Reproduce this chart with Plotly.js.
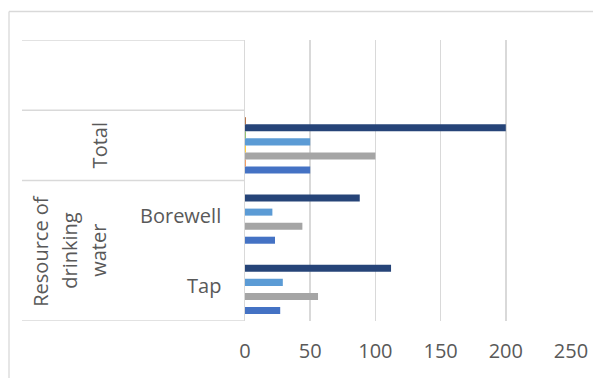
<!DOCTYPE html>
<html><head><meta charset="utf-8">
<script src="https://cdn.plot.ly/plotly-3.0.1.min.js"></script>
<style>html,body{margin:0;padding:0;background:#fff;}#chart{width:593px;height:378px;}</style>
</head><body><div id="chart"></div>
<script>
// ---- data ----
const categories = ["Tap", "Borewell", "Total"];
const groupLabelLines = ["Resource of", "drinking", "water"]; // outer level for Tap + Borewell
const series1 = [27, 23, 50];      // blue
const series2 = [null, null, 0];   // orange (zero)
const series3 = [56, 44, 100];     // gray
const series4 = [null, null, 0];   // yellow (zero)
const series5 = [29, 21, 50];      // light blue
const series6 = [null, null, 0];   // green (zero)
const series7 = [112, 88, 200];    // navy
const series8 = [null, null, 0];   // dark orange (zero)
const xTicks = [0, 50, 100, 150, 200, 250];

// ---- styling ----
const colors = ["#4472C4", "#ED7D31", "#A5A5A5", "#FFC000", "#5B9BD5", "#70AD47", "#264478", "#9E480E"];
const allSeries = [series1, series2, series3, series4, series5, series6, series7, series8];
const W = 593, H = 378, L = 245, R = 22, T = 40, B = 57;
const pw = W - L - R, ph = H - T - B;
const xp = px => (px - L) / pw;
const yp = py => (H - B - py) / ph;
const font = "'Open Sans', sans-serif";
const txt = "#595959";
const line = "#D9D9D9";

const traces = allSeries.map((s, i) => ({
  type: "bar", orientation: "h", y: categories, x: s,
  name: "Series " + (i + 1),
  marker: {color: colors[i], line: {color: colors[i], width: s.some(v => v === 0) ? 1 : 0}},
  hoverinfo: "skip"
}));

const nCat = categories.length + 1; // extra empty band at top
const shapes = [];
// table horizontal lines at band boundaries (top, top of Total, between Total and group, bottom)
[nCat - 0.5, categories.length - 0.5, categories.length - 1.5, -0.5].forEach(v => {
  shapes.push({type: "line", xref: "paper", yref: "y", x0: xp(22), x1: 0, y0: v, y1: v,
    line: {color: line, width: 1.5}});
});
// chart area border (top and left)
shapes.push({type: "line", xref: "paper", yref: "paper", x0: xp(9), x1: xp(600), y0: yp(11.5), y1: yp(11.5), line: {color: line, width: 1.3}});
shapes.push({type: "line", xref: "paper", yref: "paper", x0: xp(9), x1: xp(9), y0: yp(11.5), y1: yp(390), line: {color: line, width: 1.3}});

const annotations = [];
annotations.push({xref: "paper", yref: "y", x: xp(99), y: categories[2], text: categories[2], textangle: -90,
  showarrow: false, xanchor: "center", yanchor: "middle", font: {family: font, size: 20, color: txt}});
[0, 1].forEach(i => annotations.push({xref: "paper", yref: "y", x: xp(223), y: categories[i], text: categories[i],
  showarrow: false, xanchor: "right", yanchor: "middle", font: {family: font, size: 20, color: txt}}));
const lineX = [41, 70, 99];
groupLabelLines.forEach((t, i) => annotations.push({xref: "paper", yref: "y", x: xp(lineX[i]), y: 0.5, text: t,
  textangle: -90, showarrow: false, xanchor: "center", yanchor: "middle", font: {family: font, size: 20, color: txt}}));

const layout = {
  width: W, height: H, margin: {l: L, r: R, t: T, b: B, pad: 0},
  paper_bgcolor: "#fff", plot_bgcolor: "#fff", showlegend: false,
  barmode: "group", bargap: 0.2, bargroupgap: 0,
  xaxis: {range: [0, 250], tickvals: xTicks, ticktext: xTicks.map(String), showgrid: true, gridcolor: line, gridwidth: 1.5,
    zeroline: false, showline: false, ticks: "", ticklabelstandoff: 16,
    tickfont: {family: font, size: 20, color: txt}, fixedrange: true},
  yaxis: {type: "category", categoryorder: "array", categoryarray: categories, range: [-0.5, nCat - 0.5],
    showticklabels: false, showgrid: false, zeroline: false, showline: true, linecolor: line, linewidth: 1.5, ticks: "", fixedrange: true},
  shapes: shapes, annotations: annotations
};
Plotly.newPlot("chart", traces, layout, {staticPlot: true, displayModeBar: false});
</script>
</body></html>
